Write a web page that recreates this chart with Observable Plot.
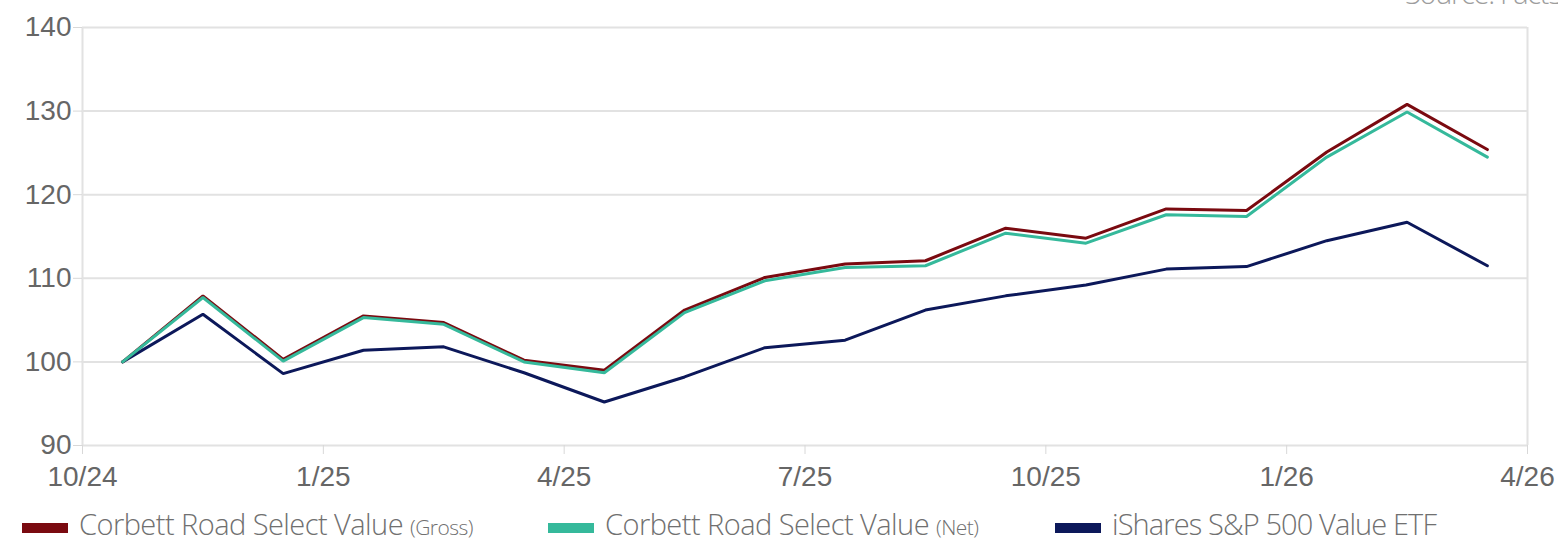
<!DOCTYPE html>
<html><head><meta charset="utf-8">
<script src="https://cdn.jsdelivr.net/npm/d3@7"></script>
<script src="https://cdn.jsdelivr.net/npm/@observablehq/plot@0.6"></script>
<style>
html,body{margin:0;padding:0;background:#fff;overflow:hidden;width:1558px;height:544px}
#wrap{position:relative;width:1558px;height:544px;overflow:hidden}
#chart{position:absolute;left:0;top:0}
#source{position:absolute;left:1405px;top:-22px;line-height:30px;font-family:"Open Sans",sans-serif;font-weight:300;font-size:29px;letter-spacing:-1.3px;color:#9d9d9d;white-space:nowrap}
.item{position:absolute;top:512px;height:34px}
.sw{position:absolute;top:11px;left:0;width:46px;height:10px}
.lab{position:absolute;left:57px;top:-5px;line-height:34px;font-family:"Open Sans",sans-serif;font-weight:300;font-size:29px;color:#707070;white-space:nowrap}
.lab small{font-size:21px}
</style></head>
<body><div id="wrap"><div id="chart"></div><div id="source">Source: FactSet</div><div id="legend"></div></div>
<script>
const months = ["10/24","11/24","12/24","1/25","2/25","3/25","4/25","5/25","6/25","7/25","8/25","9/25","10/25","11/25","12/25","1/26","2/26","3/26"];
const tickLabels = ["10/24","1/25","4/25","7/25","10/25","1/26","4/26"];
const yTicks = [90,100,110,120,130,140];
const seriesNames = ["Corbett Road Select Value (Gross)","Corbett Road Select Value (Net)","iShares S&P 500 Value ETF"];
const gross = [100,107.9,100.3,105.5,104.7,100.2,99.0,106.2,110.1,111.7,112.1,116.0,114.8,118.3,118.1,125.1,130.8,125.4];
const net   = [100,107.7,100.1,105.3,104.5,100.0,98.7,105.9,109.7,111.3,111.5,115.4,114.2,117.6,117.4,124.5,129.9,124.5];
const etf   = [100,105.7,98.6,101.4,101.8,98.7,95.2,98.2,101.7,102.6,106.2,107.9,109.2,111.1,111.4,114.5,116.7,111.5];
const colors = ["#7a0a10","#35b99b","#0c185a"];

const rows = [];
[etf, gross, net].forEach((arr, k) => {
  const name = [seriesNames[2], seriesNames[0], seriesNames[1]][k];
  arr.forEach((v, i) => rows.push({i: i + 0.5, v, name, month: months[i]}));
});

const n = months.length;
const xTicks = tickLabels.map((_, j) => j * 3);

const chart = Plot.plot({
  width: 1558,
  height: 500,
  marginLeft: 82,
  marginRight: 31,
  marginTop: 27,
  marginBottom: 55,
  style: {fontFamily: "'Liberation Sans', Arial, sans-serif", fontSize: "28px", background: "transparent"},
  x: {domain: [0, n]},
  y: {domain: [90, 140]},
  color: {domain: seriesNames, range: colors},
  marks: [
    Plot.ruleY(yTicks, {stroke: "#e2e2e2", strokeWidth: 2}),
    Plot.ruleX([0, n], {stroke: "#e2e2e2", strokeWidth: 2}),
    Plot.axisY({ticks: yTicks, tickSize: 9, tickPadding: 2, stroke: "#d8d8d8", fill: "#666", label: null, fontSize: 28}),
    Plot.axisX({ticks: xTicks, tickFormat: d => tickLabels[d / 3], tickSize: 9, tickPadding: 12, stroke: "#d8d8d8", fill: "#666", label: null, fontSize: 28}),
    Plot.line(rows, {x: "i", y: "v", z: "name", stroke: "name", strokeWidth: 3, strokeLinejoin: "miter"})
  ]
});
document.getElementById("chart").appendChild(chart);

const legend = document.getElementById("legend");
const legendX = [22, 548, 1055];
const legendMain = ["Corbett Road Select Value", "Corbett Road Select Value", "iShares S&P 500 Value ETF"];
const legendSmall = ["(Gross)", "(Net)", ""];
[0, 1, 2].forEach(k => {
  const item = document.createElement("div");
  item.className = "item";
  item.style.left = legendX[k] + "px";
  const sw = document.createElement("div");
  sw.className = "sw";
  sw.style.background = colors[k];
  const lab = document.createElement("div");
  lab.className = "lab";
  const main = document.createElement("span");
  main.textContent = legendMain[k];
  lab.appendChild(main);
  if (legendSmall[k]) {
    lab.appendChild(document.createTextNode(" "));
    const s = document.createElement("small");
    s.textContent = legendSmall[k];
    lab.appendChild(s);
  }
  item.appendChild(sw);
  item.appendChild(lab);
  legend.appendChild(item);
  const w = main.getBoundingClientRect().width;
  const ls = (324 - w) / legendMain[k].length;
  lab.style.letterSpacing = ls.toFixed(2) + "px";
});
</script>
</body></html>
